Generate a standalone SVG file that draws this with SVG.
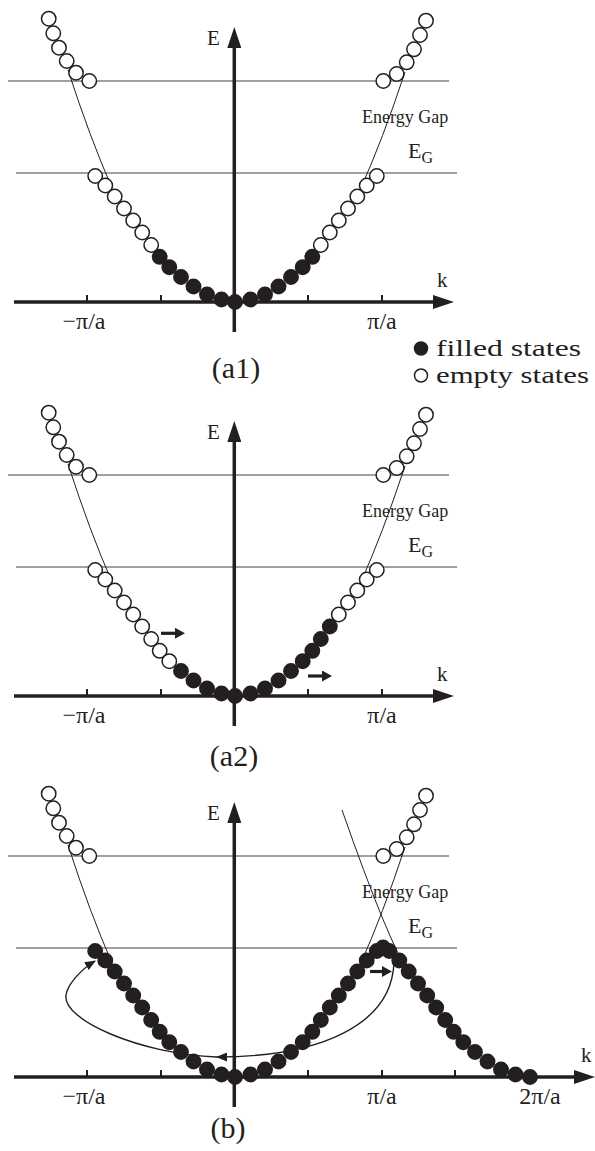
<svg xmlns="http://www.w3.org/2000/svg" width="595" height="1151" viewBox="0 0 595 1151">
<style>
.gl{stroke:#808080;stroke-width:1.4;fill:none}
.th{stroke:#231f20;stroke-width:1;fill:none}
.ax{stroke:#231f20;stroke-width:3.5;fill:none}
.tk{stroke:#231f20;stroke-width:2;fill:none}
.o{fill:#fff;stroke:#231f20;stroke-width:1.5}
.f{fill:#231f20;stroke:#231f20;stroke-width:1.5}
.sa{stroke:#231f20;stroke-width:3.2;fill:none}
.lp{stroke:#231f20;stroke-width:1.4;fill:none}
text{font-family:"Liberation Serif","Times New Roman",serif;fill:#231f20}
.lbl{font-size:21px}
.pi{font-size:24px;text-anchor:middle}
.eg{font-size:18px}
.egs{font-size:22px}
.cap{font-size:30px;text-anchor:middle}
.leg{font-size:24px}
</style>
<defs>
<marker id="axh" markerUnits="userSpaceOnUse" markerWidth="21" markerHeight="14" refX="0" refY="7" orient="auto"><path d="M0,0 L21,7 L0,14 z" fill="#231f20"/></marker>
<marker id="sah" markerUnits="userSpaceOnUse" markerWidth="10" markerHeight="11" refX="0" refY="5.5" orient="auto"><path d="M0,0 L10,5.5 L0,11 z" fill="#231f20"/></marker>
<marker id="lph" markerUnits="userSpaceOnUse" markerWidth="11" markerHeight="9" refX="10" refY="4.5" orient="auto"><path d="M0,0 L11,4.5 L0,9 z" fill="#231f20"/></marker>
</defs>

<!-- Panel a1 -->
<g id="panel-a1">
<g id="a1-lines">
<line class="gl" x1="8" y1="81" x2="449" y2="81"/>
<line class="gl" x1="16" y1="173" x2="457" y2="173"/>
<path class="th" d="M68,70 Q90,137.9 112,188"/>
<path class="th" d="M405,72 Q382.5,140.1 360,190"/>
</g>
<g id="a1-axes">
<line class="ax" x1="234.3" y1="332" x2="234.3" y2="48" marker-end="url(#axh)"/>
<line class="ax" x1="14" y1="302" x2="433" y2="302" marker-end="url(#axh)"/>
<path class="tk" d="M87,302V295 M161,302V295 M308,302V295 M382,302V295"/>
</g>
<g id="a1-states">
<circle class="o" cx="48.7" cy="18.7" r="7.2"/><circle class="o" cx="53.3" cy="33.3" r="7.2"/><circle class="o" cx="59" cy="47.7" r="7.2"/><circle class="o" cx="66.7" cy="61" r="7.2"/><circle class="o" cx="76" cy="72.7" r="7.2"/><circle class="o" cx="89.3" cy="81" r="7.2"/>
<circle class="o" cx="383.3" cy="81" r="7.2"/><circle class="o" cx="396.7" cy="74" r="7.2"/><circle class="o" cx="406.7" cy="62.3" r="7.2"/><circle class="o" cx="414" cy="49.3" r="7.2"/><circle class="o" cx="420" cy="35" r="7.2"/><circle class="o" cx="426" cy="20.7" r="7.2"/>
<circle class="o" cx="95.2" cy="176" r="7.2"/><circle class="o" cx="105.3" cy="185.5" r="7.2"/><circle class="o" cx="114.7" cy="196.5" r="7.2"/><circle class="o" cx="124" cy="208.5" r="7.2"/><circle class="o" cx="133.2" cy="220.5" r="7.2"/><circle class="o" cx="142.2" cy="232.5" r="7.2"/><circle class="o" cx="151.2" cy="245" r="7.2"/>
<circle class="f" cx="159.7" cy="256.8" r="7.2"/><circle class="f" cx="169.3" cy="267.2" r="7.2"/><circle class="f" cx="181" cy="277" r="7.2"/><circle class="f" cx="193.5" cy="286.5" r="7.2"/><circle class="f" cx="207" cy="294.5" r="7.2"/><circle class="f" cx="221.5" cy="299.5" r="7.2"/>
<circle class="f" cx="235" cy="302" r="7.2"/>
<circle class="f" cx="250.5" cy="299.5" r="7.2"/><circle class="f" cx="265" cy="294.5" r="7.2"/><circle class="f" cx="278.5" cy="286.5" r="7.2"/><circle class="f" cx="291" cy="277" r="7.2"/><circle class="f" cx="302.7" cy="267.2" r="7.2"/><circle class="f" cx="312.3" cy="256.8" r="7.2"/>
<circle class="o" cx="320.8" cy="245" r="7.2"/><circle class="o" cx="329.8" cy="232.5" r="7.2"/><circle class="o" cx="338.8" cy="220.5" r="7.2"/><circle class="o" cx="348" cy="208.5" r="7.2"/><circle class="o" cx="357.3" cy="196.5" r="7.2"/><circle class="o" cx="366.7" cy="185.5" r="7.2"/><circle class="o" cx="376.8" cy="176" r="7.2"/>
</g>
<g id="a1-labels">
<text class="lbl" x="207" y="45">E</text>
<text class="lbl" x="437" y="287">k</text>
<text class="pi" x="84" y="329">−π/a</text>
<text class="pi" x="382" y="329">π/a</text>
<text class="eg" x="362" y="123">Energy Gap</text>
<text class="egs" x="408" y="158">E<tspan font-size="16" dy="5">G</tspan></text>
<text class="cap" x="236" y="378">(a1)</text>
</g>
<g id="legend">
<circle class="f" cx="421" cy="348.5" r="6.5"/>
<text class="leg" x="436" y="356" textLength="145" lengthAdjust="spacingAndGlyphs">filled states</text>
<circle class="o" cx="421" cy="375.5" r="6.5"/>
<text class="leg" x="436" y="383" textLength="153" lengthAdjust="spacingAndGlyphs">empty states</text>
</g>
</g>

<!-- Panel a2 -->
<g id="panel-a2" transform="translate(0,394)">
<g id="a2-lines">
<line class="gl" x1="8" y1="81" x2="449" y2="81"/>
<line class="gl" x1="16" y1="173" x2="457" y2="173"/>
<path class="th" d="M68,70 Q90,137.9 112,188"/>
<path class="th" d="M405,72 Q382.5,140.1 360,190"/>
</g>
<g id="a2-axes">
<line class="ax" x1="234.3" y1="332" x2="234.3" y2="48" marker-end="url(#axh)"/>
<line class="ax" x1="14" y1="302" x2="433" y2="302" marker-end="url(#axh)"/>
<path class="tk" d="M87,302V295 M161,302V295 M308,302V295 M382,302V295"/>
</g>
<g id="a2-states">
<circle class="o" cx="48.7" cy="18.7" r="7.2"/><circle class="o" cx="53.3" cy="33.3" r="7.2"/><circle class="o" cx="59" cy="47.7" r="7.2"/><circle class="o" cx="66.7" cy="61" r="7.2"/><circle class="o" cx="76" cy="72.7" r="7.2"/><circle class="o" cx="89.3" cy="81" r="7.2"/>
<circle class="o" cx="383.3" cy="81" r="7.2"/><circle class="o" cx="396.7" cy="74" r="7.2"/><circle class="o" cx="406.7" cy="62.3" r="7.2"/><circle class="o" cx="414" cy="49.3" r="7.2"/><circle class="o" cx="420" cy="35" r="7.2"/><circle class="o" cx="426" cy="20.7" r="7.2"/>
<circle class="o" cx="95.2" cy="176" r="7.2"/><circle class="o" cx="105.3" cy="185.5" r="7.2"/><circle class="o" cx="114.7" cy="196.5" r="7.2"/><circle class="o" cx="124" cy="208.5" r="7.2"/><circle class="o" cx="133.2" cy="220.5" r="7.2"/><circle class="o" cx="142.2" cy="232.5" r="7.2"/><circle class="o" cx="151.2" cy="245" r="7.2"/><circle class="o" cx="159.7" cy="256.8" r="7.2"/><circle class="o" cx="169.3" cy="267.2" r="7.2"/>
<circle class="f" cx="181" cy="277" r="7.2"/><circle class="f" cx="193.5" cy="286.5" r="7.2"/><circle class="f" cx="207" cy="294.5" r="7.2"/><circle class="f" cx="221.5" cy="299.5" r="7.2"/>
<circle class="f" cx="235" cy="302" r="7.2"/>
<circle class="f" cx="250.5" cy="299.5" r="7.2"/><circle class="f" cx="265" cy="294.5" r="7.2"/><circle class="f" cx="278.5" cy="286.5" r="7.2"/><circle class="f" cx="291" cy="277" r="7.2"/><circle class="f" cx="302.7" cy="267.2" r="7.2"/><circle class="f" cx="312.3" cy="256.8" r="7.2"/><circle class="f" cx="320.8" cy="245" r="7.2"/><circle class="f" cx="329.8" cy="232.5" r="7.2"/>
<circle class="o" cx="338.8" cy="220.5" r="7.2"/><circle class="o" cx="348" cy="208.5" r="7.2"/><circle class="o" cx="357.3" cy="196.5" r="7.2"/><circle class="o" cx="366.7" cy="185.5" r="7.2"/><circle class="o" cx="376.8" cy="176" r="7.2"/>
</g>
<g id="a2-arrows">
<line class="sa" x1="161" y1="239.3" x2="175" y2="239.3" marker-end="url(#sah)"/>
<line class="sa" x1="308" y1="282" x2="322" y2="282" marker-end="url(#sah)"/>
</g>
<g id="a2-labels">
<text class="lbl" x="207" y="45">E</text>
<text class="lbl" x="437" y="287">k</text>
<text class="pi" x="84" y="329">−π/a</text>
<text class="pi" x="382" y="329">π/a</text>
<text class="eg" x="362" y="123">Energy Gap</text>
<text class="egs" x="408" y="158">E<tspan font-size="16" dy="5">G</tspan></text>
<text class="cap" x="234" y="372">(a2)</text>
</g>
</g>

<!-- Panel b -->
<g id="panel-b" transform="translate(0,775)">
<g id="b-lines">
<line class="gl" x1="8" y1="81" x2="449" y2="81"/>
<line class="gl" x1="16" y1="173" x2="457" y2="173"/>
<path class="th" d="M68,70 Q90,137.9 112,188"/>
<path class="th" d="M405,72 Q382.5,140.1 360,190"/>
<path class="th" d="M342,35 Q388,166.5 410,200"/>
</g>
<g id="b-axes">
<line class="ax" x1="234.3" y1="332" x2="234.3" y2="48" marker-end="url(#axh)"/>
<line class="ax" x1="14" y1="302" x2="574" y2="302" marker-end="url(#axh)"/>
<path class="tk" d="M87,302V295 M161,302V295 M308,302V295 M382,302V295 M455,302V295 M529,302V295"/>
</g>
<g id="b-states">
<circle class="o" cx="48.7" cy="18.7" r="7.2"/><circle class="o" cx="53.3" cy="33.3" r="7.2"/><circle class="o" cx="59" cy="47.7" r="7.2"/><circle class="o" cx="66.7" cy="61" r="7.2"/><circle class="o" cx="76" cy="72.7" r="7.2"/><circle class="o" cx="89.3" cy="81" r="7.2"/>
<circle class="o" cx="383.3" cy="81" r="7.2"/><circle class="o" cx="396.7" cy="74" r="7.2"/><circle class="o" cx="406.7" cy="62.3" r="7.2"/><circle class="o" cx="414" cy="49.3" r="7.2"/><circle class="o" cx="420" cy="35" r="7.2"/><circle class="o" cx="426" cy="20.7" r="7.2"/>
<circle class="f" cx="95.2" cy="176" r="7.2"/><circle class="f" cx="105.3" cy="185.5" r="7.2"/><circle class="f" cx="114.7" cy="196.5" r="7.2"/><circle class="f" cx="124" cy="208.5" r="7.2"/><circle class="f" cx="133.2" cy="220.5" r="7.2"/><circle class="f" cx="142.2" cy="232.5" r="7.2"/><circle class="f" cx="151.2" cy="245" r="7.2"/><circle class="f" cx="159.7" cy="256.8" r="7.2"/><circle class="f" cx="169.3" cy="267.2" r="7.2"/><circle class="f" cx="181" cy="277" r="7.2"/><circle class="f" cx="193.5" cy="286.5" r="7.2"/><circle class="f" cx="207" cy="294.5" r="7.2"/><circle class="f" cx="221.5" cy="299.5" r="7.2"/>
<circle class="f" cx="235" cy="302" r="7.2"/>
<circle class="f" cx="250.5" cy="299.5" r="7.2"/><circle class="f" cx="265" cy="294.5" r="7.2"/><circle class="f" cx="278.5" cy="286.5" r="7.2"/><circle class="f" cx="291" cy="277" r="7.2"/><circle class="f" cx="302.7" cy="267.2" r="7.2"/><circle class="f" cx="312.3" cy="256.8" r="7.2"/><circle class="f" cx="320.8" cy="245" r="7.2"/><circle class="f" cx="329.8" cy="232.5" r="7.2"/><circle class="f" cx="338.8" cy="220.5" r="7.2"/><circle class="f" cx="348" cy="208.5" r="7.2"/><circle class="f" cx="357.3" cy="196.5" r="7.2"/><circle class="f" cx="366.7" cy="185.5" r="7.2"/><circle class="f" cx="376.8" cy="176" r="7.2"/>
<circle class="f" cx="383" cy="172.5" r="7.2"/>
<circle class="f" cx="389.2" cy="176" r="7.2"/><circle class="f" cx="399.3" cy="185.5" r="7.2"/><circle class="f" cx="408.7" cy="196.5" r="7.2"/><circle class="f" cx="418" cy="208.5" r="7.2"/><circle class="f" cx="427.2" cy="220.5" r="7.2"/><circle class="f" cx="436.2" cy="232.5" r="7.2"/><circle class="f" cx="445.2" cy="245" r="7.2"/><circle class="f" cx="453.7" cy="256.8" r="7.2"/><circle class="f" cx="463.3" cy="267.2" r="7.2"/><circle class="f" cx="475" cy="277" r="7.2"/><circle class="f" cx="487.5" cy="286.5" r="7.2"/><circle class="f" cx="501" cy="294.5" r="7.2"/><circle class="f" cx="515.5" cy="299.5" r="7.2"/><circle class="f" cx="530" cy="302" r="7.2"/>
</g>
<g id="b-arrows">
<line class="sa" x1="370" y1="196.5" x2="382" y2="196.5" marker-end="url(#sah)"/>
<path class="lp" d="M394,187 C392,250 320,282 217,282" marker-end="url(#lph)"/>
<path class="lp" d="M217,282 C140,279 62,245 66,220 C67.5,210 80,195 95,186" marker-end="url(#lph)"/>
</g>
<g id="b-labels">
<text class="lbl" x="207" y="45">E</text>
<text class="lbl" x="581" y="287">k</text>
<text class="pi" x="84" y="329">−π/a</text>
<text class="pi" x="382" y="329">π/a</text>
<text class="pi" x="540" y="329">2π/a</text>
<text class="eg" x="362" y="123">Energy Gap</text>
<text class="egs" x="408" y="158">E<tspan font-size="16" dy="5">G</tspan></text>
<text class="cap" x="228" y="363">(b)</text>
</g>
</g>
</svg>
